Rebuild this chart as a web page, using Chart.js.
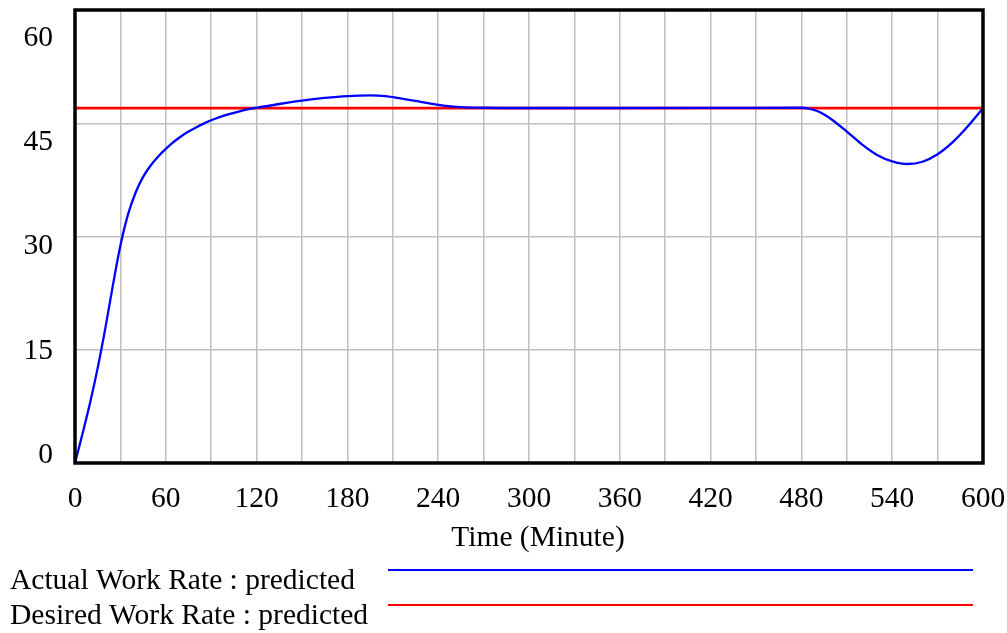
<!DOCTYPE html>
<html>
<head>
<meta charset="utf-8">
<script src="https://cdn.jsdelivr.net/npm/chart.js@4/dist/chart.umd.min.js"></script>
<style>
  html, body { margin: 0; padding: 0; background: #ffffff; }
  #wrap { width: 1007px; height: 633px; position: relative; }
</style>
</head>
<body>
<div id="wrap"><canvas id="c"></canvas></div>
<script>
// ---- data ----
const times  = [0, 5, 10, 15, 20, 25, 30, 35, 40, 45, 50, 55, 60, 65, 70, 75, 80, 85, 90, 100, 110, 120, 135, 150, 165, 180, 195, 205, 215, 225, 235, 245, 255, 270, 300, 360, 420, 480, 485, 490, 495, 500, 510, 520, 530, 540, 550, 560, 570, 580, 590, 600];
const actual = [0, 3.9, 8.0, 12.6, 17.8, 23.5, 28.8, 32.9, 35.8, 37.9, 39.4, 40.6, 41.6, 42.5, 43.25, 43.9, 44.45, 44.95, 45.4, 46.1, 46.65, 47.05, 47.55, 48.0, 48.35, 48.6, 48.7, 48.6, 48.3, 47.95, 47.6, 47.3, 47.13, 47.05, 47.02, 47.02, 47.03, 47.05, 46.95, 46.65, 46.15, 45.5, 43.9, 42.2, 40.8, 39.95, 39.6, 39.9, 40.9, 42.5, 44.6, 47.0];
const desiredTimes = [0, 600];
const desired      = [47, 47];
const xTickLabels = [0, 60, 120, 180, 240, 300, 360, 420, 480, 540, 600];
const yTickLabels = [0, 15, 30, 45, 60];
const seriesNames = ['Actual Work Rate : predicted', 'Desired Work Rate : predicted'];
const axisTitle = 'Time (Minute)';

// ---- styling ----
const FONT = '29.5px "Liberation Serif", "Times New Roman", serif';
const BLUE = '#0000ff', RED = '#ff0000', GRID = '#c0c0c0';

const decor = {
  id: 'decor',
  afterDraw(chart) {
    const ctx = chart.ctx, a = chart.chartArea;
    const xs = chart.scales.x, ys = chart.scales.y;
    ctx.save();
    // frame
    ctx.strokeStyle = '#000';
    ctx.lineWidth = 3.5;
    ctx.strokeRect(a.left, a.top, a.right - a.left, a.bottom - a.top);
    ctx.fillStyle = '#000';
    ctx.font = FONT;
    // y labels: spread evenly in an inset band (Vensim style)
    const insetTop = 28, insetBottom = 8;
    ctx.textAlign = 'right';
    ctx.textBaseline = 'middle';
    yTickLabels.forEach(v => {
      const frac = (v - ys.min) / (ys.max - ys.min);
      const y = (a.bottom - insetBottom) - frac * ((a.bottom - insetBottom) - (a.top + insetTop));
      ctx.fillText(String(v), a.left - 22, y);
    });
    // x labels
    ctx.textAlign = 'center';
    xTickLabels.forEach(v => {
      ctx.fillText(String(v), xs.getPixelForValue(v), a.bottom + 36);
    });
    // axis title
    ctx.fillText(axisTitle, 538, a.bottom + 75);
    // legend
    ctx.textAlign = 'left';
    ctx.textBaseline = 'alphabetic';
    const legendRows = [{ y: 570, text: 589, color: BLUE }, { y: 605, text: 624, color: RED }];
    legendRows.forEach((r, i) => {
      ctx.fillText(seriesNames[i], 10, r.text);
      ctx.strokeStyle = r.color;
      ctx.lineWidth = 2.2;
      ctx.beginPath();
      ctx.moveTo(388, r.y);
      ctx.lineTo(973, r.y);
      ctx.stroke();
    });
    ctx.restore();
  }
};

new Chart(document.getElementById('c'), {
  type: 'line',
  data: {
    datasets: [
      {
        label: seriesNames[0],
        data: times.map((t, i) => ({ x: t, y: actual[i] })),
        borderColor: BLUE,
        borderWidth: 2.3,
        pointRadius: 0,
        cubicInterpolationMode: 'monotone',
        fill: false
      },
      {
        label: seriesNames[1],
        data: desiredTimes.map((t, i) => ({ x: t, y: desired[i] })),
        borderColor: RED,
        borderWidth: 2.6,
        pointRadius: 0,
        fill: false
      }
    ]
  },
  options: {
    responsive: true,
    maintainAspectRatio: false,
    animation: false,
    layout: { padding: { left: 75, right: 24, top: 10, bottom: 170 } },
    plugins: { legend: { display: false }, tooltip: { enabled: false } },
    scales: {
      x: {
        type: 'linear', min: 0, max: 600,
        ticks: { display: false, stepSize: 30 },
        grid: { color: GRID, lineWidth: 1.5, drawTicks: false },
        border: { display: false }
      },
      y: {
        type: 'linear', min: 0, max: 60,
        ticks: { display: false, stepSize: 15 },
        grid: { color: GRID, lineWidth: 1.5, drawTicks: false },
        border: { display: false }
      }
    }
  },
  plugins: [decor]
});
</script>
</body>
</html>
